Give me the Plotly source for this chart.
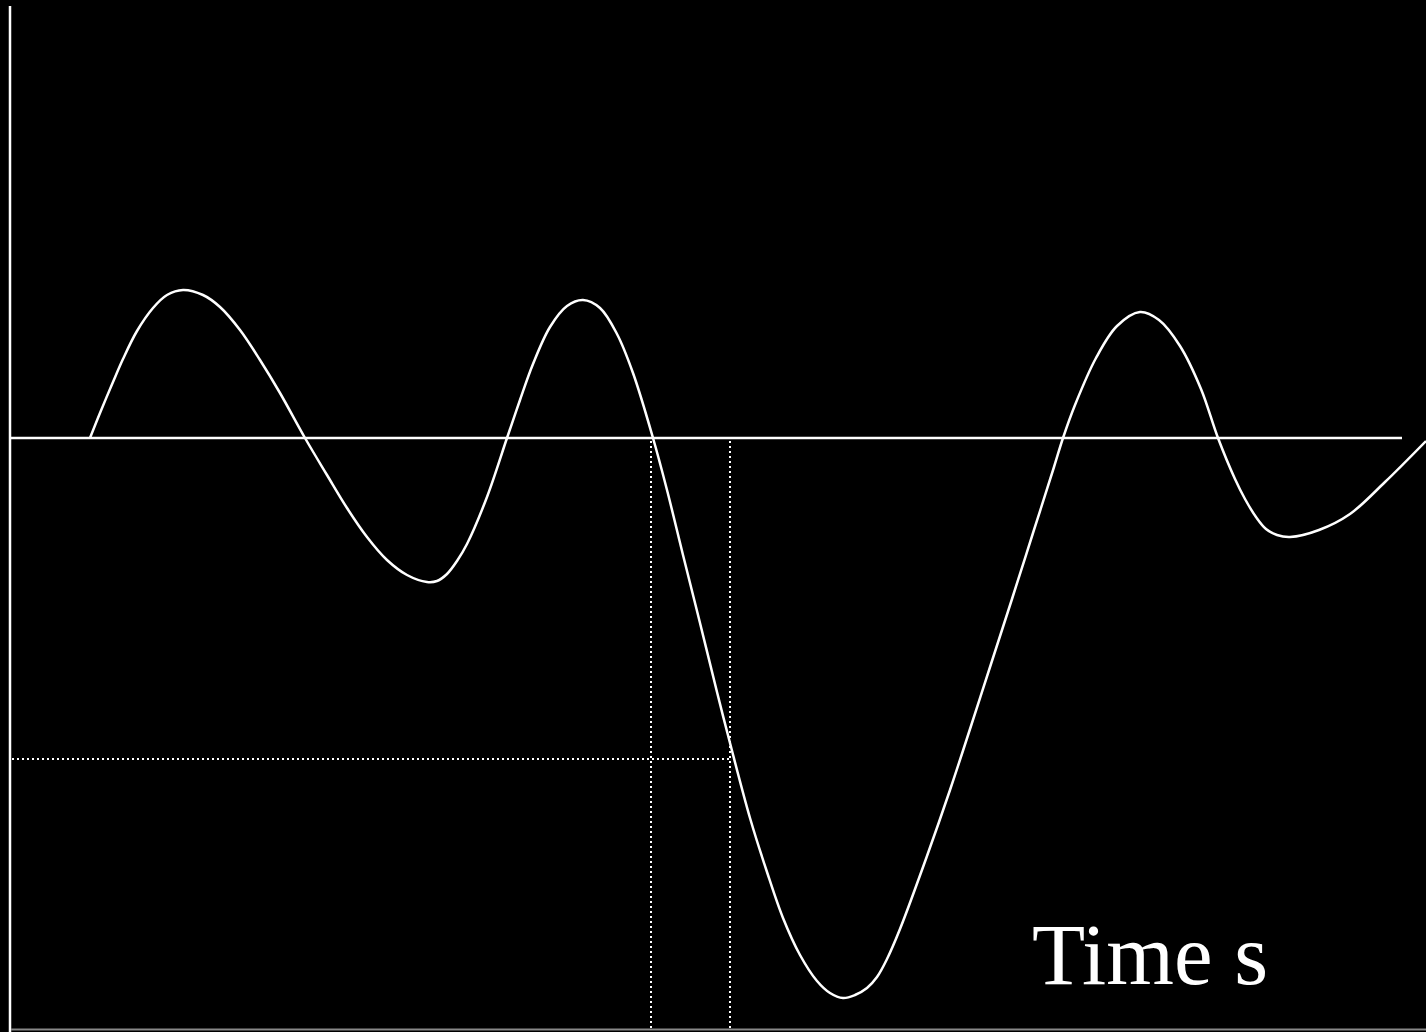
import plotly.graph_objects as go

# Curve (time in px units, amplitude = px above the zero line)
time_s = [90, 100, 113, 123, 137, 153, 167, 183, 203, 220, 240, 260, 280, 305, 327, 347, 367,
          387, 407, 427, 437, 447, 457, 467, 487, 507, 520, 533, 550, 567, 583, 600, 617, 633,
          653, 667, 683, 700, 717, 730, 750, 767, 783, 800, 817, 830, 843, 855, 867, 877, 887,
          900, 927, 950, 971, 991, 1012, 1033, 1054, 1063, 1075, 1096, 1117, 1140, 1159, 1180,
          1201, 1218, 1235, 1245, 1256, 1266, 1277, 1290, 1319, 1350, 1385, 1426]
amp_px = [438, 413, 382, 359, 331, 308, 295, 290, 295, 307, 330, 360, 393, 438, 475, 508, 537,
          560, 575, 582, 581, 574, 561, 544, 497, 438, 400, 364, 327, 306, 300, 308, 334, 373,
          438, 490, 555, 623, 692, 743, 818, 872, 918, 955, 981, 993, 998, 995, 988, 977, 959,
          929, 856, 790, 726, 664, 599, 533, 467, 438, 405, 358, 326, 312, 320, 346,
          389, 438, 479, 499, 517, 529, 535, 537, 530, 514, 482, 441]
ZERO_PX = 438
amplitude = [ZERO_PX - v for v in amp_px]

# Guide values
guide_times = [651, 730]
guide_level = [ZERO_PX - 759]
zero_line_end = [1402]
label_text = ["Time s"]

X_RANGE = [0, 1426]
Y_RANGE = [ZERO_PX - 1032, ZERO_PX]

fig = go.Figure()
fig.add_trace(go.Scatter(x=time_s, y=amplitude, mode="lines",
                         line=dict(color="white", width=2.5, shape="spline", smoothing=1.0),
                         hoverinfo="skip", showlegend=False))

shapes = []
# vertical axis
shapes.append(dict(type="line", xref="x", yref="y", x0=10, x1=10, y0=Y_RANGE[0], y1=ZERO_PX - 6,
                   line=dict(color="white", width=2.5)))
# bottom line
shapes.append(dict(type="line", xref="x", yref="y", x0=11, x1=X_RANGE[1], y0=ZERO_PX - 1029.5,
                   y1=ZERO_PX - 1029.5, line=dict(color="#888888", width=2)))
# zero line
shapes.append(dict(type="line", xref="x", yref="y", x0=10, x1=zero_line_end[0], y0=0, y1=0,
                   line=dict(color="white", width=2.5)))
# dotted guides
for t in guide_times:
    shapes.append(dict(type="line", xref="x", yref="y", x0=t, x1=t, y0=-3, y1=Y_RANGE[0] + 4,
                       line=dict(color="white", width=2, dash="2px,3px")))
shapes.append(dict(type="line", xref="x", yref="y", x0=12, x1=guide_times[1], y0=guide_level[0],
                   y1=guide_level[0], line=dict(color="white", width=2, dash="2px,3px")))

fig.update_layout(
    width=1426, height=1032,
    margin=dict(l=0, r=0, t=0, b=0),
    paper_bgcolor="black", plot_bgcolor="black",
    xaxis=dict(range=X_RANGE, visible=False, fixedrange=True),
    yaxis=dict(range=Y_RANGE, visible=False, fixedrange=True),
    shapes=shapes,
    annotations=[dict(x=1150, y=ZERO_PX - 954, xref="x", yref="y", text=label_text[0],
                      showarrow=False, xanchor="center", yanchor="middle",
                      font=dict(family="Liberation Serif", size=87, color="white"))],
)

fig.write_html("out.html", config={"displayModeBar": False},
               post_script="document.body.style.margin='0';"
                           "document.body.style.background='black';"
                           "document.body.style.overflow='hidden';")
